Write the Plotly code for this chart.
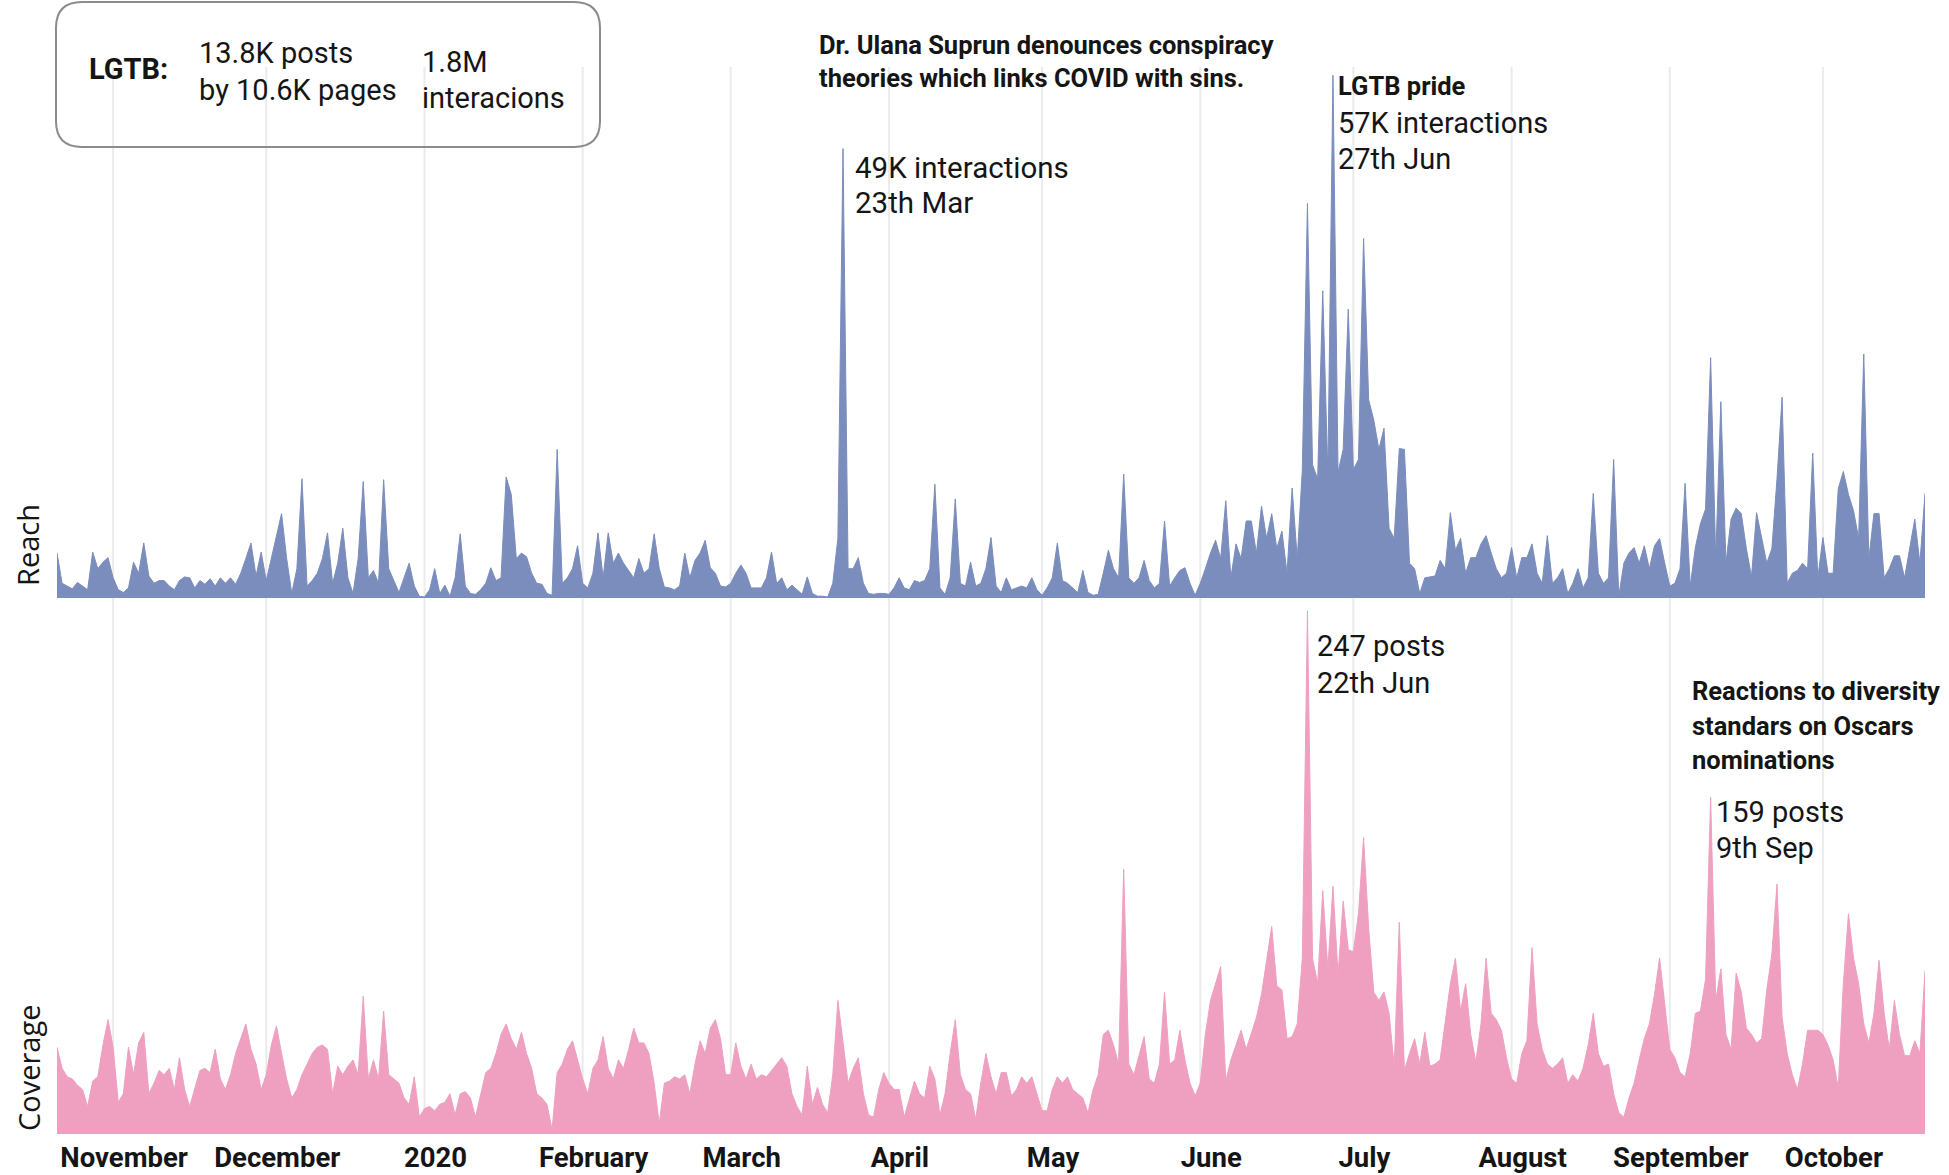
import plotly.graph_objects as go
import pandas as pd

# ---------------- data ----------------
start_date = "2019-10-21"
end_date = "2020-10-21"

# Reach: daily interactions (thousands), 21 Oct 2019 .. 21 Oct 2020
reach_k = [
    4.9, 1.6, 1.3, 1.0, 1.7, 1.3, 0.9, 5.0, 3.2, 3.9, 4.4,
    2.2, 0.9, 0.6, 1.1, 3.9, 2.7, 6.0, 2.4, 1.6, 1.9,
    1.9, 1.3, 0.9, 1.9, 2.3, 2.2, 1.1, 1.9, 1.5, 2.1,
    1.3, 2.2, 1.6, 2.2, 1.5, 2.7, 4.3, 6.0, 2.4, 5.0,
    1.9, 4.3, 6.5, 9.2, 4.3, 0.5, 3.2, 13.0, 1.3, 1.9,
    2.7, 4.3, 7.1, 1.6, 3.8, 7.6, 2.2, 0.5, 4.3, 12.7,
    2.2, 3.0, 1.6, 12.9, 3.2, 1.9, 0.6, 2.2, 3.8, 1.3,
    0.2, 0.1, 0.9, 3.2, 0.5, 1.4, 0.2, 2.2, 7.0, 1.3,
    0.5, 0.4, 0.9, 1.6, 3.3, 1.9, 2.2, 13.2, 11.3, 4.3,
    4.9, 4.5, 2.7, 1.6, 1.5, 0.5, 0.3, 16.2, 1.6, 2.2,
    3.2, 5.7, 1.6, 1.1, 2.7, 7.1, 2.2, 7.1, 3.8, 4.9,
    3.8, 3.0, 2.2, 4.3, 2.7, 3.2, 7.0, 3.2, 1.2, 1.1,
    0.9, 1.3, 4.9, 2.2, 4.1, 4.9, 6.3, 3.3, 2.7, 1.3,
    1.2, 1.6, 2.7, 3.6, 2.7, 1.1, 1.1, 1.1, 2.2, 5.0,
    1.6, 2.2, 0.9, 1.4, 0.9, 0.4, 2.3, 0.5, 0.2, 0.2,
    0.1, 1.6, 6.5, 49.0, 3.2, 3.2, 4.4, 1.6, 0.5, 0.4,
    0.5, 0.5, 0.4, 1.1, 2.2, 1.1, 0.9, 1.9, 1.7, 1.9,
    3.2, 12.4, 1.1, 0.4, 2.2, 10.8, 1.6, 1.3, 3.9, 1.3,
    1.6, 3.2, 6.6, 1.3, 0.6, 2.2, 0.9, 1.1, 1.3, 1.1,
    2.2, 0.9, 0.3, 1.1, 2.2, 6.0, 1.9, 1.6, 1.1, 0.6,
    3.0, 0.6, 0.3, 0.4, 2.7, 5.2, 3.2, 2.2, 13.5, 2.2,
    1.6, 2.2, 4.1, 1.9, 1.1, 1.6, 8.4, 1.3, 2.2, 3.0,
    3.3, 1.6, 0.3, 1.6, 3.2, 4.9, 6.3, 4.3, 10.6, 2.2,
    5.9, 4.3, 8.4, 8.4, 4.9, 10.0, 6.5, 9.2, 5.4, 7.3,
    2.7, 12.0, 4.3, 14.0, 43.0, 14.5, 13.0, 33.5, 13.5, 57.0,
    13.7, 16.2, 31.5, 14.0, 15.1, 39.2, 21.6, 19.4, 16.2, 18.5,
    7.6, 6.5, 16.3, 16.2, 3.8, 3.2, 0.5, 2.2, 2.3, 2.4,
    4.1, 3.2, 9.3, 5.2, 6.5, 2.7, 4.4, 4.4, 5.9, 6.8,
    4.9, 3.2, 2.2, 2.7, 5.5, 2.2, 4.4, 4.4, 5.9, 2.7,
    1.6, 6.8, 1.6, 2.2, 3.2, 0.5, 1.6, 3.2, 1.1, 2.2,
    11.4, 2.7, 1.6, 2.2, 15.1, 0.2, 3.8, 4.9, 5.5, 3.8,
    5.7, 3.2, 5.7, 6.5, 3.8, 1.3, 1.6, 3.2, 12.5, 1.3,
    5.5, 8.1, 9.7, 26.2, 4.3, 21.4, 3.8, 8.6, 9.8, 9.2,
    5.4, 2.3, 9.3, 6.6, 3.8, 5.4, 13.0, 21.9, 1.6, 2.7,
    3.0, 3.8, 3.2, 15.8, 2.2, 6.6, 2.7, 2.7, 11.9, 13.8,
    11.3, 9.5, 6.5, 26.6, 4.3, 9.2, 9.2, 2.2, 3.2, 4.6,
    4.6, 2.2, 5.5, 8.6, 3.8, 11.4,
]

# Coverage: daily posts, 21 Oct 2019 .. 21 Oct 2020
posts = [
    41, 31, 27, 26, 23, 21, 13, 25, 27, 42, 54,
    41, 15, 19, 41, 28, 43, 48, 19, 24, 30,
    28, 31, 21, 36, 21, 13, 21, 30, 31, 29,
    40, 26, 21, 28, 38, 45, 52, 40, 33, 21,
    28, 42, 51, 38, 26, 17, 21, 28, 33, 38,
    41, 42, 40, 19, 32, 28, 32, 35, 28, 65,
    26, 35, 26, 58, 28, 26, 24, 17, 14, 27,
    8, 12, 13, 11, 14, 15, 19, 9, 19, 20,
    17, 8, 19, 29, 31, 38, 47, 52, 45, 40,
    48, 38, 31, 19, 17, 14, 2, 29, 33, 40,
    44, 35, 26, 19, 31, 35, 46, 31, 26, 35,
    31, 40, 50, 43, 43, 38, 24, 5, 24, 25,
    27, 26, 28, 19, 33, 44, 38, 50, 54, 45,
    28, 28, 43, 32, 26, 33, 26, 28, 27, 30,
    33, 36, 32, 19, 13, 9, 32, 14, 22, 14,
    10, 28, 63, 42, 24, 31, 36, 19, 9, 8,
    21, 29, 24, 21, 21, 8, 17, 25, 19, 17,
    32, 26, 9, 19, 38, 54, 28, 21, 19, 7,
    24, 38, 27, 19, 29, 29, 18, 21, 27, 24,
    27, 19, 11, 11, 21, 27, 24, 27, 21, 19,
    17, 10, 21, 28, 47, 49, 42, 33, 125, 33,
    28, 37, 46, 26, 24, 33, 67, 33, 35, 49,
    35, 24, 18, 24, 47, 63, 71, 79, 25, 35,
    42, 49, 40, 47, 55, 66, 83, 98, 70, 68,
    45, 46, 52, 83, 247, 83, 71, 115, 78, 117,
    75, 110, 87, 86, 104, 140, 97, 67, 63, 67,
    57, 32, 100, 30, 38, 45, 33, 48, 32, 33,
    35, 52, 71, 83, 58, 71, 47, 34, 52, 83,
    57, 54, 49, 36, 26, 24, 38, 44, 88, 52,
    40, 33, 31, 33, 36, 24, 28, 25, 31, 42,
    57, 38, 32, 33, 19, 10, 8, 17, 24, 35,
    45, 52, 66, 83, 61, 40, 36, 29, 27, 38,
    57, 58, 73, 159, 63, 78, 47, 40, 76, 67,
    50, 47, 43, 45, 68, 85, 118, 55, 38, 28,
    21, 33, 49, 49, 49, 47, 42, 35, 22, 71,
    104, 83, 71, 52, 43, 57, 82, 57, 40, 63,
    47, 37, 37, 44, 38, 77,
]

month_starts = pd.date_range("2019-11-01", "2020-10-01", freq="MS")
month_labels = ["November", "December", "2020", "February", "March", "April",
                "May", "June", "July", "August", "September", "October"]

reach_dates = pd.date_range(start_date, periods=len(reach_k), freq="D")
post_dates = pd.date_range(start_date, periods=len(posts), freq="D")

# ---------------- styling / geometry ----------------
W, H = 1949, 1175
ML, MR, MT, MB = 57, 24, 0, 41
PW, PH = W - ML - MR, H - MT - MB

BLUE = "#7b8dbd"
PINK = "#efa0c1"
GRID = "#ebebeb"
TXT = "#151515"

REG = "Roboto, 'Open Sans', sans-serif"
BOLD = "Roboto, 'Open Sans', sans-serif"
AXT = "'Open Sans', 'Noto Sans', sans-serif"


def px(x):
    return (x - ML) / PW


def py(y):
    return (MT + PH - y) / PH


split = py(598)

fig = go.Figure()
fig.add_trace(go.Scatter(
    x=reach_dates, y=reach_k, mode="lines", fill="tozeroy",
    line=dict(color=BLUE, width=1), fillcolor=BLUE,
    xaxis="x", yaxis="y", hoverinfo="skip", showlegend=False))
fig.add_trace(go.Scatter(
    x=post_dates, y=posts, mode="lines", fill="tozeroy",
    line=dict(color=PINK, width=1), fillcolor=PINK,
    xaxis="x", yaxis="y2", hoverinfo="skip", showlegend=False))

shapes = []
for m in month_starts:
    shapes.append(dict(type="line", xref="x", yref="paper", x0=m, x1=m,
                       y0=0, y1=py(67), line=dict(color=GRID, width=2), layer="below"))

# rounded box
x0, x1, y0, y1, r = 56, 600, 2, 147, 26
pts = [
    ("M", (x0 + r, y0)), ("L", (x1 - r, y0)), ("Q", (x1, y0), (x1, y0 + r)),
    ("L", (x1, y1 - r)), ("Q", (x1, y1), (x1 - r, y1)), ("L", (x0 + r, y1)),
    ("Q", (x0, y1), (x0, y1 - r)), ("L", (x0, y0 + r)), ("Q", (x0, y0), (x0 + r, y0)),
]
path = ""
for seg in pts:
    cmd = seg[0]
    coords = " ".join(f"{px(a):.5f},{py(b):.5f}" for a, b in seg[1:])
    path += f"{cmd}{coords} "
path += "Z"
shapes.append(dict(type="path", xref="paper", yref="paper", path=path,
                   line=dict(color="#8c8c8c", width=2), fillcolor="rgba(0,0,0,0)"))

annotations = []


def add_text(x, baseline, s, size, bold=False, family=None):
    fam = family or (BOLD if bold else REG)
    annotations.append(dict(
        x=px(x), y=py(baseline - 0.34 * size), xref="paper", yref="paper",
        xanchor="left", yanchor="middle", text=s, showarrow=False,
        font=dict(family=fam, size=size, color=TXT, weight=700 if bold else 400),
        borderpad=0))


add_text(88, 79, "LGTB:", 29, bold=True)
add_text(198, 63, "13.8K posts", 29)
add_text(198, 100, "by 10.6K pages", 29)
add_text(421, 72, "1.8M", 29)
add_text(421, 108, "interacions", 29)

add_text(818, 54, "Dr. Ulana Suprun denounces conspiracy", 25.5, bold=True)
add_text(818, 87, "theories which links COVID with sins.", 25.5, bold=True)
add_text(854, 178, "49K interactions", 29.5)
add_text(854, 213, "23th Mar", 29.5)

add_text(1337, 95, "LGTB pride", 25.5, bold=True)
add_text(1337, 133, "57K interactions", 29)
add_text(1337, 169, "27th Jun", 29)

add_text(1316, 656, "247 posts", 29)
add_text(1316, 693, "22th Jun", 29)

add_text(1691, 700, "Reactions to diversity", 25.5, bold=True)
add_text(1691, 735, "standars on Oscars", 25.5, bold=True)
add_text(1691, 769, "nominations", 25.5, bold=True)
add_text(1715, 822, "159 posts", 29)
add_text(1715, 858, "9th Sep", 29)

# axis titles
annotations.append(dict(x=px(27), y=py(588), xref="paper", yref="paper",
                        xanchor="center", yanchor="bottom", textangle=-90,
                        text="Reach", showarrow=False,
                        font=dict(family=AXT, size=29, color=TXT)))
annotations.append(dict(x=px(28), y=py(1133), xref="paper", yref="paper",
                        xanchor="center", yanchor="bottom", textangle=-90,
                        text="Coverage", showarrow=False,
                        font=dict(family=AXT, size=29, color=TXT)))

fig.update_layout(
    width=W, height=H,
    margin=dict(l=ML, r=MR, t=MT, b=MB, pad=0, autoexpand=False),
    plot_bgcolor="white", paper_bgcolor="white",
    showlegend=False,
    xaxis=dict(domain=[0, 1], range=[start_date, end_date], anchor="y2",
               showgrid=False, zeroline=False, showline=False, ticks="",
               tickmode="array", tickvals=month_starts, ticktext=month_labels,
               tickangle=0, automargin=False,
               tickfont=dict(family=BOLD, size=27.5, color=TXT, weight=700),
               ticklabelshift=11, ticklabelstandoff=4),
    yaxis=dict(domain=[split, 1], range=[0, 65.2], visible=False, anchor="x",
               fixedrange=True),
    yaxis2=dict(domain=[0, split], range=[0, 253.1], visible=False, anchor="x",
                fixedrange=True),
    shapes=shapes,
    annotations=annotations,
)

fig.write_html(
    "out.html",
    config={"displayModeBar": False},
    post_script="document.body.style.margin='0px';"
                "document.body.style.overflow='hidden';"
                "document.documentElement.style.overflow='hidden';",
)
